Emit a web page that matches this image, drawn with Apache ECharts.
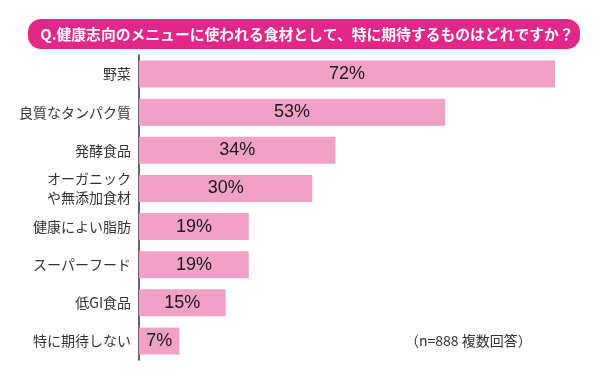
<!DOCTYPE html>
<html><head><meta charset="utf-8">
<script src="https://cdn.jsdelivr.net/npm/echarts@6/dist/echarts.min.js"></script>
<style>html,body{margin:0;padding:0;background:#fff}#c{width:600px;height:374px}</style>
</head><body><div id="c"></div>
<script>
const titleText = 'Q.健康志向のメニューに使われる食材として、特に期待するものはどれですか？';
const noteText = '（n=888 複数回答）';
const categories = ['野菜','良質なタンパク質','発酵食品','オーガニック\nや無添加食材','健康によい脂肪','スーパーフード','低GI食品','特に期待しない'];
const values = [72,53,34,30,19,19,15,7];

const chart = echarts.init(document.getElementById('c'));
chart.setOption({
  animation:false,
  grid:{left:139,top:55,width:416,height:305,containLabel:false},
  xAxis:{type:'value',min:0,max:72,show:false},
  yAxis:{type:'category',data:categories,inverse:true,
    axisLine:{lineStyle:{color:'#333',width:1.5}},axisTick:{show:false},
    axisLabel:{color:'#333',fontSize:14,lineHeight:19,margin:8,fontFamily:'Noto Sans CJK JP'}},
  series:[{type:'bar',data:values,barWidth:27,itemStyle:{color:'#f0a1c5'},
    label:{show:true,position:'inside',formatter:'{c}%',color:'#1a1a1a',fontSize:18,
      fontFamily:'Liberation Sans',fontWeight:'normal'}}],
  graphic:[
    {type:'rect',shape:{x:28,y:19,width:552,height:30,r:13},style:{fill:'#e2268a'}},
    {type:'text',x:307,y:34,style:{text:titleText,fill:'#fff',fontSize:14.8,fontWeight:'bold',
      fontFamily:'Noto Sans CJK JP',textAlign:'center',textVerticalAlign:'middle'}},
    {type:'text',x:405,y:341,style:{text:noteText,fill:'#333',fontSize:14,
      fontFamily:'Noto Sans CJK JP',textAlign:'left',textVerticalAlign:'middle'}}
  ]
});
</script></body></html>
